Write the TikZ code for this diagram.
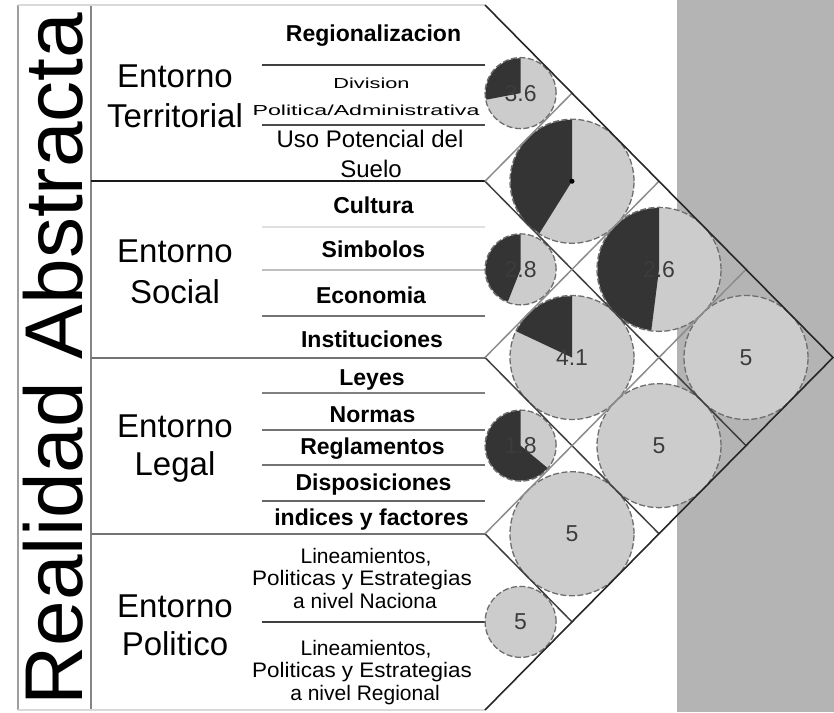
\documentclass[tikz,border=0pt]{standalone}
\usepackage{fontspec}
\setmainfont{Liberation Sans}
\usetikzlibrary{calc}
\definecolor{bggray}{HTML}{B4B4B4}
\definecolor{pielight}{HTML}{CCCCCC}
\definecolor{piedark}{HTML}{343434}
\definecolor{rimgray}{HTML}{6E6E6E}
\definecolor{valgray}{HTML}{3C3C3C}
\newcommand\fsz[1]{\fontsize{#1}{#1}\selectfont}
\newcommand\sx[2]{\scalebox{#1}[1]{#2}}
\newcommand\darkwedge[3]{\fill[piedark] (#1) -- ++(-90:#2) arc[start angle=-90, end angle={-90-#3}, radius=#2] -- cycle;}
\begin{document}
\begin{tikzpicture}[x=1pt,y=-1pt,
  itm/.style={anchor=base, inner sep=0pt, font=\fsz{23}\bfseries},
  sub/.style={anchor=base, inner sep=0pt, font=\fsz{21}},
  ent/.style={anchor=base, inner sep=0pt, font=\fsz{33}},
  bigpie/.style={circle, inner sep=0pt, minimum size=124pt, fill=pielight, draw=rimgray, line width=1.3pt, dash pattern=on 6pt off 2.5pt},
  smallpie/.style={bigpie, minimum size=71pt},
  val/.style={inner sep=0pt, font=\fsz{23}, text=valgray},
  tri/.style={line width=1.6pt, draw=black!85},
  dr/.style={line width=1.5pt, draw=black!75},
  ur/.style={line width=1.5pt, draw=black!45},
  rule/.style={line width=1.6pt},
]
\useasboundingbox (0,0) rectangle (834,712);
\fill[bggray] (677,0) rectangle (834,712);

% lattice coordinates
\coordinate (A) at (485,5);
\coordinate (B) at (485,710);
\coordinate (C) at (833,357.5);
\coordinate (P1) at ($(A)!0.25!(B)$);
\coordinate (P2) at ($(A)!0.5!(B)$);
\coordinate (P3) at ($(A)!0.75!(B)$);
\coordinate (Q1) at ($(A)!0.25!(C)$);
\coordinate (Q2) at ($(A)!0.5!(C)$);
\coordinate (Q3) at ($(A)!0.75!(C)$);
\coordinate (R1) at ($(B)!0.75!(C)$);
\coordinate (R2) at ($(B)!0.5!(C)$);
\coordinate (R3) at ($(B)!0.25!(C)$);

% table frame
\draw[rule, draw=black!38] (18,5) -- (18,710);
\draw[rule, draw=black!48, line width=2pt] (91,5) -- (91,710);
\draw[rule, draw=black!15, line width=2pt] (18,5) -- (A);
\draw[rule, draw=black!15, line width=2pt] (18,710) -- (B);
\draw[rule, draw=black!90, line width=2pt] (91,181.25) -- (P1);
\draw[rule, draw=black!55, line width=2pt] (91,357.5) -- (P2);
\draw[rule, draw=black!55, line width=2pt] (91,533.75) -- (P3);
% item dividers
\draw[rule, draw=black!75] (262,65) -- (485,65);
\draw[rule, draw=black!70] (262,125) -- (485,125);
\draw[rule, draw=black!12] (262,227) -- (485,227);
\draw[rule, draw=black!25] (262,270) -- (485,270);
\draw[rule, draw=black!55] (262,316) -- (485,316);
\draw[rule, draw=black!50] (262,393) -- (485,393);
\draw[rule, draw=black!55] (262,430) -- (485,430);
\draw[rule, draw=black!55] (262,465) -- (485,465);
\draw[rule, draw=black!60] (262,501) -- (485,501);
\draw[rule, draw=black!75] (262,622) -- (485,622);

% vertical title
\node[inner sep=0pt, rotate=90, font=\fsz{82}] (title) at (53,359) {Realidad Abstracta};

% entorno labels
\node[ent] (e1a) at (175,87) {Entorno};
\node[ent] (e1b) at (175,127) {Territorial};
\node[ent] (e2a) at (175,262) {Entorno};
\node[ent] (e2b) at (175,303) {Social};
\node[ent] (e3a) at (175,437) {Entorno};
\node[ent] (e3b) at (175,475) {Legal};
\node[ent] (e4a) at (175,617) {Entorno};
\node[ent] (e4b) at (175,655) {Politico};

% items
\node[itm] (i1) at (373.5,41.5) {Regionalizacion};
\node[sub, font=\fsz{14.5}] (i2a) at (371.5,88) {\sx{1.5}{Division}};
\node[sub, font=\fsz{14.5}] (i2b) at (366,115) {\sx{1.6}{Politica/Administrativa}};
\node[sub, font=\fsz{24}] (i3a) at (370,147) {Uso Potencial del};
\node[sub, font=\fsz{24}] (i3b) at (371,177) {Suelo};
\node[itm] (i4) at (373.5,213) {Cultura};
\node[itm] (i5) at (373.5,257) {Simbolos};
\node[itm] (i6) at (371,303) {Economia};
\node[itm] (i7) at (372,347) {Instituciones};
\node[itm] (i8) at (372,385) {Leyes};
\node[itm] (i9) at (372.5,422) {Normas};
\node[itm] (i10) at (372.5,454) {Reglamentos};
\node[itm] (i11) at (373.5,490) {Disposiciones};
\node[itm] (i12) at (371.5,525) {indices y factores};
\node[sub] (i13a) at (366,563) {Lineamientos,};
\node[sub] (i13b) at (362,585) {\sx{1.07}{Politicas y Estrategias}};
\node[sub] (i13c) at (365,608) {a nivel Naciona};
\node[sub] (i14a) at (366,655) {Lineamientos,};
\node[sub] (i14b) at (362,677) {\sx{1.07}{Politicas y Estrategias}};
\node[sub] (i14c) at (365,700) {a nivel Regional};

% circles
\node[smallpie] (c11) at (520.6,93.125) {};
\node[smallpie] (c22) at (520.6,269.375) {};
\node[smallpie] (c33) at (520.6,445.625) {};
\node[smallpie] (c44) at (520.6,621.875) {};
\node[bigpie] (c12) at (572,181.25) {};
\node[bigpie] (c13) at (659,269.375) {};
\node[bigpie] (c14) at (746,357.5) {};
\node[bigpie] (c23) at (572,357.5) {};
\node[bigpie] (c24) at (659,445.625) {};
\node[bigpie] (c34) at (572,533.75) {};

\darkwedge{c11.center}{34.8}{100.8}
\darkwedge{c22.center}{34.8}{158.4}
\darkwedge{c33.center}{34.8}{230.4}
\darkwedge{c12.center}{61.3}{148}
\darkwedge{c13.center}{61.3}{172.8}
\darkwedge{c23.center}{61.3}{64.8}
\fill[black] (c12.center) circle[radius=2.5];

% lattice
\draw[dr] (P1) -- (R1);
\draw[dr] (P2) -- (R2);
\draw[dr] (P3) -- (R3);
\draw[ur] (P1) -- (Q1);
\draw[ur] (P2) -- (Q2);
\draw[ur] (P3) -- (Q3);
\draw[tri] (A) -- (C) -- (B);

% values
\node[val] (v11) at (c11) {3.6};
\node[val] (v22) at (c22) {2.8};
\node[val] (v33) at (c33) {1.8};
\node[val] (v44) at (c44) {5};
\node[val] (v13) at (c13) {2.6};
\node[val] (v14) at (c14) {5};
\node[val] (v23) at (c23) {4.1};
\node[val] (v24) at (c24) {5};
\node[val] (v34) at (c34) {5};
\end{tikzpicture}
\end{document}
